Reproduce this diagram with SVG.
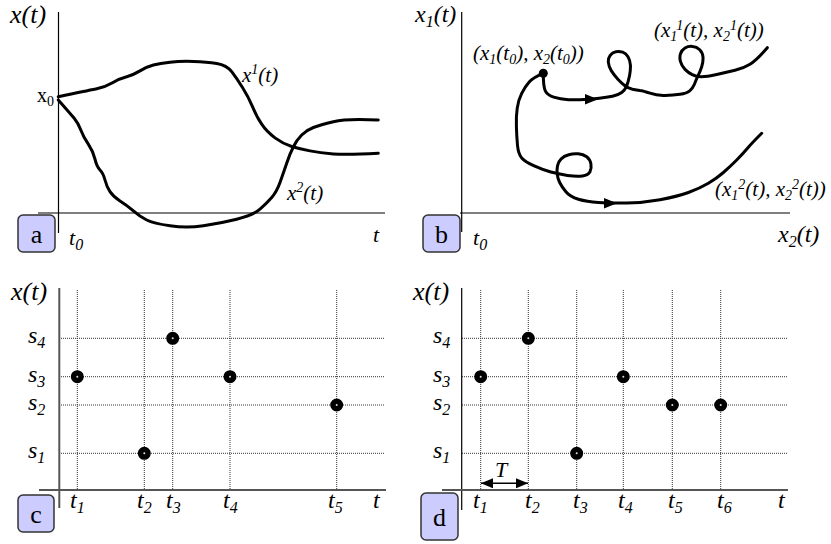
<svg xmlns="http://www.w3.org/2000/svg" width="831" height="544" viewBox="0 0 831 544">
<style>
.it{font-family:"Liberation Serif","Times New Roman",Times,"DejaVu Serif",serif;font-style:italic;fill:#000}
.rm{font-family:"Liberation Serif","Times New Roman",Times,"DejaVu Serif",serif;fill:#000}
.ax{stroke:#000;stroke-width:1.2;fill:none}
.axg{stroke:#555;stroke-width:2;fill:none}
.grid{stroke:#333;stroke-width:1;stroke-dasharray:1 1;fill:none}
.curve{stroke:#000;stroke-width:3;fill:none;stroke-linejoin:round;stroke-linecap:round}
.box{fill:#ccccff;stroke:#333;stroke-width:1.5}
.dot{fill:#ddd;stroke:#000;stroke-width:5.5}
.sub{font-size:14px}
.sub2{font-size:16px}
.bs{font-size:14px}
</style>
<defs>
<marker id="ah" viewBox="0 0 12 10" refX="12" refY="5" markerWidth="12" markerHeight="10" markerUnits="userSpaceOnUse" orient="auto-start-reverse">
<path d="M0,0 L12,5 L0,10 z" fill="#000"/>
</marker>
</defs>

<!-- Panel a -->
<g id="panel-a">
<line class="ax" x1="58.5" y1="12" x2="58.5" y2="233"/>
<line class="ax" x1="38" y1="213" x2="385" y2="213"/>
<path class="curve" d="M58.3,96.7 Q86.7,90.7 95.9,89 Q105,87.3 112.5,82.8 Q120,78.3 126.7,76.7 Q133.3,75 140,70.9 Q146.7,66.7 153.4,65 Q160,63.3 170,62.2 Q180,61 193.4,61.4 Q206.7,61.7 216.7,63.4 Q226.7,65 231.7,71.7 Q236.7,78.3 242.5,87.5 Q248.3,96.7 252.5,106.7 Q256.7,116.7 261.7,124.2 Q266.7,131.7 275,137.9 Q283.3,144 291.7,146.5 Q300,149 310,150.9 Q320,152.7 333.4,153.9 Q346.7,155 378.3,153.3"/>
<path class="curve" d="M58.3,100 Q70,113.3 74.2,118.3 Q78.3,123.3 80.8,130 Q83.3,136.7 88.3,144.2 Q93.3,151.7 95,159.2 Q96.7,166.7 100,170 Q103.3,173.3 105,180 Q106.7,186.7 110,191.7 Q113.3,196.7 120,200.9 Q126.7,205 133.4,210.9 Q140,216.7 146.7,220 Q153.3,223.3 170,225.8 Q186.7,228.3 203.4,225.8 Q220,223.3 236.7,219.2 Q253.3,215 260,209.2 Q266.7,203.3 271.7,197.5 Q276.7,191.7 280,182.5 Q283.3,173.3 286.7,163.3 Q290,153.3 293.4,146.7 Q296.7,140 301.7,135 Q306.7,130 313.4,127.5 Q320,125 333.4,121.7 Q346.7,118.3 378.3,120"/>
<text class="it" x="10" y="23" font-size="26">x(t)</text>
<text class="rm" x="37" y="102" font-size="20">x<tspan class="sub" dy="4">0</tspan></text>
<text class="it" x="242" y="82" font-size="21">x<tspan class="sub" dy="-8">1</tspan><tspan dy="8">(t)</tspan></text>
<text class="it" x="287" y="200" font-size="21">x<tspan class="sub" dy="-8">2</tspan><tspan dy="8">(t)</tspan></text>
<text class="it" x="69" y="245" font-size="22">t<tspan class="sub2" dy="5">0</tspan></text>
<text class="it" x="373" y="242" font-size="22">t</text>
</g>
<g id="label-a">
<rect class="box" x="18" y="215" width="37" height="37" rx="5"/>
<text class="rm" x="36.5" y="243" font-size="26" text-anchor="middle">a</text>
</g>

<!-- Panel b -->
<g id="panel-b">
<line class="ax" x1="461.7" y1="12" x2="461.7" y2="232"/>
<line class="ax" x1="460" y1="213" x2="790" y2="213"/>
<path class="curve" d="M543.3,73.3 Q543.3,86.7 545.3,90.9 Q547.3,95 553.7,97.2 Q560,99.3 568.4,99.7 Q576.7,100 584.2,99.5 Q591.7,99 599.2,98.2 Q606.7,97.3 612.5,96.2 Q618.3,95 621.7,92.5 Q625,90 626.7,85.9 Q628.3,81.7 629.5,75.9 Q630.7,70 630.4,65 Q630,60 628,56.7 Q626,53.3 622.7,52.2 Q619.3,51 615.8,51.7 Q612.3,52.3 610.2,55.3 Q608,58.3 608.4,62.5 Q608.7,66.7 611.4,70.9 Q614,75 617.9,79.2 Q621.7,83.3 625,85.8 Q628.3,88.3 632.5,89.2 Q636.7,90 640,90.4 Q643.3,90.7 650,93.2 Q656.7,95.7 665,95.4 Q673.3,95 680,94.2 Q686.7,93.3 689.7,90.8 Q692.7,88.3 694.4,84.2 Q696,80 698,75.9 Q700,71.7 701.7,66.7 Q703.3,61.7 703,57.2 Q702.7,52.7 699.7,49.7 Q696.7,46.7 692.5,46.4 Q688.3,46 685,48 Q681.7,50 680.5,53.7 Q679.3,57.3 680.5,61.7 Q681.7,66 685,69.4 Q688.3,72.7 692.2,74.7 Q696,76.7 701.4,76.7 Q706.7,76.7 716.7,74.5 Q726.7,72.3 735,70.3 Q743.3,68.3 750,64.2 Q756.7,60 767.3,47.7"/>
<path class="curve" d="M543.3,73.3 Q533.3,77.3 529.2,82 Q525,86.7 521.7,93.4 Q518.3,100 517.2,108.4 Q516,116.7 516.4,126.7 Q516.7,136.7 517.5,145.4 Q518.3,154 521.7,157.9 Q525,161.7 534.2,165.9 Q543.3,170 550.8,172 Q558.3,174 567.5,175.4 Q576.7,176.7 582.5,175.9 Q588.3,175 590,171.7 Q591.7,168.3 590.9,163.8 Q590,159.3 586.7,156.8 Q583.3,154.3 578.3,153.8 Q573.3,153.3 568.7,154.7 Q564,156 561.2,158.9 Q558.3,161.7 557.5,165.9 Q556.7,170 557.2,174.2 Q557.7,178.3 559.7,182.5 Q561.7,186.7 565.9,191.7 Q570,196.7 578.4,199.2 Q586.7,201.7 598.4,202.5 Q610,203.3 626.7,203 Q643.3,202.7 660,199.7 Q676.7,196.7 688.4,192.5 Q700,188.3 708.4,183.3 Q716.7,178.3 723.4,172.5 Q730,166.7 736.7,160 Q743.3,153.3 747.5,148.3 Q751.7,143.3 761.7,133.3"/>
<circle cx="543.3" cy="73.3" r="4.5" fill="#000"/>
<polygon points="598,99.2 585,94 585,104.4" fill="#000"/>
<polygon points="617,203.2 604,198 604,208.4" fill="#000"/>
<text class="it" x="415" y="22" font-size="24">x<tspan class="sub2" dy="5">1</tspan><tspan dy="-5">(t)</tspan></text>
<text class="it" x="473" y="60" font-size="21">(x<tspan class="bs" dy="4">1</tspan><tspan dy="-4">(t</tspan><tspan class="bs" dy="4">0</tspan><tspan dy="-4">), x</tspan><tspan class="bs" dy="4">2</tspan><tspan dy="-4">(t</tspan><tspan class="bs" dy="4">0</tspan><tspan dy="-4">))</tspan></text>
<text class="it" x="654" y="37" font-size="21">(x<tspan class="bs" dy="4">1</tspan><tspan class="bs" dy="-11">1</tspan><tspan dy="7">(t), x</tspan><tspan class="bs" dy="4">2</tspan><tspan class="bs" dy="-11">1</tspan><tspan dy="7">(t))</tspan></text>
<text class="it" x="715" y="196" font-size="21">(x<tspan class="bs" dy="4">1</tspan><tspan class="bs" dy="-11">2</tspan><tspan dy="7">(t), x</tspan><tspan class="bs" dy="4">2</tspan><tspan class="bs" dy="-11">2</tspan><tspan dy="7">(t))</tspan></text>
<text class="it" x="473" y="245" font-size="22">t<tspan class="sub2" dy="5">0</tspan></text>
<text class="it" x="778" y="242" font-size="24">x<tspan class="sub2" dy="5">2</tspan><tspan dy="-5">(t)</tspan></text>
</g>
<g id="label-b">
<rect class="box" x="423" y="215" width="37" height="37" rx="5"/>
<text class="rm" x="441.5" y="243" font-size="26" text-anchor="middle">b</text>
</g>

<!-- Panel c -->
<g id="panel-c">
<g class="grid">
<line x1="59" y1="338.3" x2="384" y2="338.3"/>
<line x1="59" y1="376.7" x2="384" y2="376.7"/>
<line x1="59" y1="405" x2="384" y2="405"/>
<line x1="59" y1="453.3" x2="384" y2="453.3"/>
<line x1="77.3" y1="290" x2="77.3" y2="490"/>
<line x1="144.3" y1="290" x2="144.3" y2="490"/>
<line x1="172.7" y1="290" x2="172.7" y2="490"/>
<line x1="230" y1="290" x2="230" y2="490"/>
<line x1="336.7" y1="290" x2="336.7" y2="490"/>
</g>
<line class="axg" x1="59.3" y1="288" x2="59.3" y2="508"/>
<line class="axg" x1="39" y1="490" x2="386" y2="490"/>
<circle class="dot" cx="77.3" cy="376.7" r="3.75"/>
<circle class="dot" cx="144.3" cy="453.3" r="3.75"/>
<circle class="dot" cx="172.7" cy="338.3" r="3.75"/>
<circle class="dot" cx="230" cy="376.7" r="3.75"/>
<circle class="dot" cx="336.7" cy="405" r="3.75"/>
<text class="it" x="11" y="300" font-size="26">x(t)</text>
<text class="it" x="28" y="343" font-size="24">s<tspan class="sub2" dy="5">4</tspan></text>
<text class="it" x="28" y="382" font-size="24">s<tspan class="sub2" dy="5">3</tspan></text>
<text class="it" x="28" y="410" font-size="24">s<tspan class="sub2" dy="5">2</tspan></text>
<text class="it" x="28" y="458" font-size="24">s<tspan class="sub2" dy="5">1</tspan></text>
<text class="it" x="70" y="508" font-size="24">t<tspan class="sub2" dy="5">1</tspan></text>
<text class="it" x="137" y="508" font-size="24">t<tspan class="sub2" dy="5">2</tspan></text>
<text class="it" x="166" y="508" font-size="24">t<tspan class="sub2" dy="5">3</tspan></text>
<text class="it" x="223" y="508" font-size="24">t<tspan class="sub2" dy="5">4</tspan></text>
<text class="it" x="328" y="508" font-size="24">t<tspan class="sub2" dy="5">5</tspan></text>
<text class="it" x="373" y="508" font-size="24">t</text>
</g>
<g id="label-c">
<rect class="box" x="18" y="495" width="36" height="37" rx="5"/>
<text class="rm" x="36" y="523" font-size="26" text-anchor="middle">c</text>
</g>

<!-- Panel d -->
<g id="panel-d">
<g class="grid">
<line x1="462" y1="338.3" x2="787" y2="338.3"/>
<line x1="462" y1="376.7" x2="787" y2="376.7"/>
<line x1="462" y1="405" x2="787" y2="405"/>
<line x1="462" y1="453.3" x2="787" y2="453.3"/>
<line x1="480.7" y1="290" x2="480.7" y2="490"/>
<line x1="528.3" y1="290" x2="528.3" y2="490"/>
<line x1="576.7" y1="290" x2="576.7" y2="490"/>
<line x1="623.3" y1="290" x2="623.3" y2="490"/>
<line x1="672.3" y1="290" x2="672.3" y2="490"/>
<line x1="720.7" y1="290" x2="720.7" y2="490"/>
</g>
<line class="ax" x1="461.7" y1="288" x2="461.7" y2="510"/>
<line class="axg" x1="442" y1="490" x2="788" y2="490"/>
<circle class="dot" cx="480.7" cy="376.7" r="3.75"/>
<circle class="dot" cx="528.3" cy="338.3" r="3.75"/>
<circle class="dot" cx="576.7" cy="453.3" r="3.75"/>
<circle class="dot" cx="623.3" cy="376.7" r="3.75"/>
<circle class="dot" cx="672.3" cy="405" r="3.75"/>
<circle class="dot" cx="720.7" cy="405" r="3.75"/>
<text class="it" x="413" y="300" font-size="26">x(t)</text>
<text class="it" x="433" y="343" font-size="24">s<tspan class="sub2" dy="5">4</tspan></text>
<text class="it" x="433" y="382" font-size="24">s<tspan class="sub2" dy="5">3</tspan></text>
<text class="it" x="433" y="410" font-size="24">s<tspan class="sub2" dy="5">2</tspan></text>
<text class="it" x="433" y="458" font-size="24">s<tspan class="sub2" dy="5">1</tspan></text>
<text class="it" x="473" y="508" font-size="24">t<tspan class="sub2" dy="5">1</tspan></text>
<text class="it" x="525" y="508" font-size="24">t<tspan class="sub2" dy="5">2</tspan></text>
<text class="it" x="573" y="508" font-size="24">t<tspan class="sub2" dy="5">3</tspan></text>
<text class="it" x="618" y="508" font-size="24">t<tspan class="sub2" dy="5">4</tspan></text>
<text class="it" x="668" y="508" font-size="24">t<tspan class="sub2" dy="5">5</tspan></text>
<text class="it" x="717" y="508" font-size="24">t<tspan class="sub2" dy="5">6</tspan></text>
<text class="it" x="778" y="508" font-size="24">t</text>
<text class="it" x="495" y="477" font-size="22">T</text>
</g>
<g id="connectors">
<line x1="481" y1="483.3" x2="528" y2="483.3" stroke="#000" stroke-width="1.5" marker-start="url(#ah)" marker-end="url(#ah)"/>
</g>
<g id="label-d">
<rect class="box" x="421" y="493" width="37" height="47" rx="5"/>
<text class="rm" x="439.5" y="526" font-size="26" text-anchor="middle">d</text>
</g>
</svg>
